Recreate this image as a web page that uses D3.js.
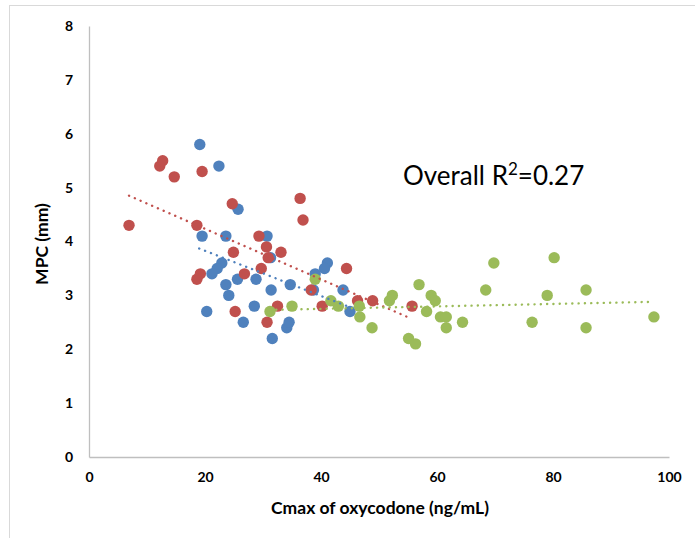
<!DOCTYPE html>
<html>
<head>
<meta charset="utf-8">
<script src="https://cdn.jsdelivr.net/npm/d3@7/dist/d3.min.js"></script>
<style>
  html, body { margin: 0; padding: 0; background: #fff; }
  svg { display: block; }
</style>
</head>
<body>
<script>
// ---- data ----
const blueX = [19.1,22.4,25.7,19.5,23.6,30.7,31.3,22.9,22.1,21.2,23.6,25.6,28.8,24.1,31.4,20.3,28.5,26.6,31.6,34.1,34.5,34.7,41.1,40.6,39.0,38.7,43.8,45.0];
const blueY = [5.8,5.4,4.6,4.1,4.1,4.1,3.7,3.6,3.5,3.4,3.2,3.3,3.3,3.0,3.1,2.7,2.8,2.5,2.2,2.4,2.5,3.2,3.6,3.5,3.4,3.1,3.1,2.7];

const redX = [6.9,12.2,12.7,14.7,19.5,24.7,18.6,36.4,36.9,29.3,24.9,30.6,33.1,30.9,29.7,26.8,19.2,18.6,25.2,30.7,32.5,44.4,38.3,40.2,46.3,48.9,55.7];
const redY = [4.3,5.4,5.5,5.2,5.3,4.7,4.3,4.8,4.4,4.1,3.8,3.9,3.8,3.7,3.5,3.4,3.4,3.3,2.7,2.5,2.8,3.5,3.1,2.8,2.9,2.9,2.8];

const greenX = [31.2,35.0,39.0,41.7,43.0,46.6,46.7,48.8,51.8,52.3,56.9,59.0,59.7,58.2,60.6,61.6,61.6,64.4,55.1,56.3,68.4,69.8,76.4,79.0,80.2,85.7,85.7,97.4];
const greenY = [2.7,2.8,3.3,2.9,2.8,2.8,2.6,2.4,2.9,3.0,3.2,3.0,2.9,2.7,2.6,2.6,2.4,2.5,2.2,2.1,3.1,3.6,2.5,3.0,3.7,3.1,2.4,2.6];

// trend line endpoints (x0, y0, x1, y1) in data units
const redTrend = [6.9, 4.85, 55.3, 2.58];
const blueTrend = [19.0, 3.87, 45.0, 2.78];
const greenTrend = [31.2, 2.73, 97.2, 2.88];

const xTicks = [0, 20, 40, 60, 80, 100];
const yTicks = [0, 1, 2, 3, 4, 5, 6, 7, 8];

const xTitle = "Cmax of oxycodone (ng/mL)";
const yTitle = "MPC (mm)";

// ---- drawing ----
const W = 695, H = 538;
const svg = d3.select("body").append("svg").attr("width", W).attr("height", H);

// chart border
svg.append("rect").attr("x", 9.5).attr("y", 5.5).attr("width", 800).attr("height", 700)
  .attr("fill", "#fff").attr("stroke", "#D9D9D9").attr("stroke-width", 1);

const x = d3.scaleLinear().domain([0, 100]).range([89, 669]);
const y = d3.scaleLinear().domain([0, 8]).range([457, 26]);

const font = "Lato, 'Open Sans', sans-serif";

// axes
const xAxis = d3.axisBottom(x).tickValues(xTicks).tickSize(0).tickPadding(15);
const gx = svg.append("g").attr("transform", `translate(0,${y(0)})`).call(xAxis);
gx.select(".domain").attr("stroke", "#BFBFBF").attr("stroke-width", 1.3);
gx.selectAll("text").attr("font-family", font).attr("font-weight", "bold")
  .attr("font-size", 14).attr("fill", "#000");

const yAxis = d3.axisLeft(y).tickValues(yTicks).tickSize(0).tickPadding(16);
const gy = svg.append("g").attr("transform", `translate(${x(0)},0)`).call(yAxis);
gy.select(".domain").attr("stroke", "#BFBFBF").attr("stroke-width", 1.3);
gy.selectAll("text").attr("font-family", font).attr("font-weight", "bold")
  .attr("font-size", 14).attr("fill", "#000");

// series
function drawSeries(xs, ys, color) {
  svg.append("g").selectAll("circle")
    .data(xs.map((v, i) => [v, ys[i]]))
    .join("circle")
    .attr("cx", d => x(d[0]))
    .attr("cy", d => y(d[1]))
    .attr("r", 5.7)
    .attr("fill", color);
}
function drawTrend(t, color) {
  svg.append("line")
    .attr("x1", x(t[0])).attr("y1", y(t[1]))
    .attr("x2", x(t[2])).attr("y2", y(t[3]))
    .attr("stroke", color).attr("stroke-width", 2.4)
    .attr("stroke-linecap", "round")
    .attr("stroke-dasharray", "0.1,6.2");
}

const BLUE = "#4F81BD", RED = "#C0504D", GREEN = "#9BBB59";
drawSeries(blueX, blueY, BLUE);
drawSeries(redX, redY, RED);
drawSeries(greenX, greenY, GREEN);
drawTrend(blueTrend, BLUE);
drawTrend(redTrend, RED);
drawTrend(greenTrend, GREEN);

// titles
svg.append("text").attr("x", 380).attr("y", 514).attr("text-anchor", "middle")
  .attr("font-family", font).attr("font-weight", "bold").attr("font-size", 17.5)
  .attr("fill", "#000").text(xTitle);

svg.append("text").attr("transform", "translate(48,244) rotate(-90)")
  .attr("text-anchor", "middle")
  .attr("font-family", font).attr("font-weight", "bold").attr("font-size", 17.5)
  .attr("fill", "#000").text(yTitle);

// annotation
const ann = svg.append("text").attr("x", 403).attr("y", 185)
  .attr("font-family", font).attr("font-size", 26).attr("fill", "#000");
ann.append("tspan").text("Overall R");
ann.append("tspan").attr("dy", -10).attr("font-size", 17).text("2");
ann.append("tspan").attr("dy", 10).text("=0.27");
</script>
</body>
</html>
